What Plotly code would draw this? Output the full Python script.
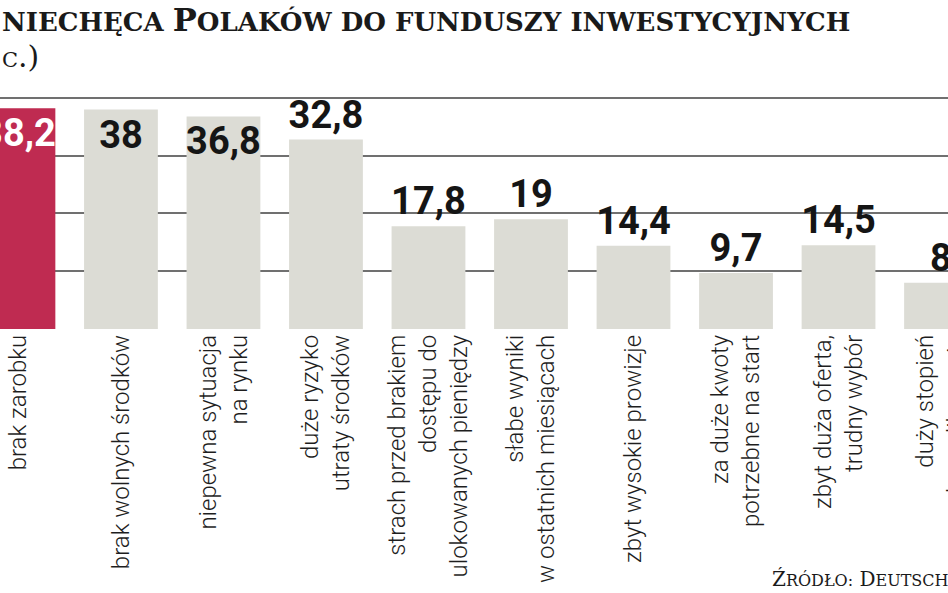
import plotly.graph_objects as go

categories = [
    "brak zarobku",
    "brak wolnych środków",
    "niepewna sytuacja<br>na rynku",
    "duże ryzyko<br>utraty środków",
    "strach przed brakiem<br>dostępu do<br>ulokowanych pieniędzy",
    "słabe wyniki<br>w ostatnich miesiącach",
    "zbyt wysokie prowizje",
    "za duże kwoty<br>potrzebne na start",
    "zbyt duża oferta,<br>trudny wybór",
    "duży stopień<br>skomplikowania",
]
values = [38.2, 38, 36.8, 32.8, 17.8, 19, 14.4, 9.7, 14.5, 8]
value_labels = ["38,2", "38", "36,8", "32,8", "17,8", "19", "14,4", "9,7", "14,5", "8"]
grid_values = [0, 10, 20, 30, 40]

RED = "#bf2b51"
GREY = "#dcdcd5"
colors = [RED] + [GREY] * (len(values) - 1)
text_pos = ["inside", "inside", "inside"] + ["outside"] * (len(values) - 3)
inside_colors = ["white"] + ["#151515"] * (len(values) - 1)

NUM_FONT = "Roboto, Liberation Sans, sans-serif"

fig = go.Figure()
fig.add_trace(go.Bar(
    x=categories,
    y=values,
    width=0.72,
    marker=dict(color=colors, line=dict(width=0)),
    text=value_labels,
    textposition=text_pos,
    insidetextanchor="end",
    constraintext="none",
    textangle=0,
    textfont=dict(family=NUM_FONT, size=38, color="#151515", weight="bold"),
    insidetextfont=dict(family=NUM_FONT, size=38, color=inside_colors, weight="bold"),
    outsidetextfont=dict(family=NUM_FONT, size=38, color="#151515", weight="bold"),
    cliponaxis=True,
    hoverinfo="skip",
))

fig.update_layout(
    width=948,
    height=593,
    margin=dict(l=0, r=0, t=87, b=264, autoexpand=False),
    paper_bgcolor="white",
    plot_bgcolor="white",
    showlegend=False,
    xaxis=dict(
        type="category",
        range=[-0.18, 9.068],
        automargin=False,
        tickangle=-90,
        tickfont=dict(family="Roboto", size=24, color="#1e1e1e", weight=300),
        showgrid=False,
        showline=False,
        ticks="",
        zeroline=False,
    ),
    yaxis=dict(
        range=[0, 41.9],
        automargin=False,
        tickvals=grid_values,
        showticklabels=False,
        showgrid=True,
        gridcolor="#707070",
        gridwidth=1.6,
        zeroline=False,
        showline=False,
        ticks="",
        fixedrange=True,
    ),
)

plot_h = 593 - 87 - 264


def py(pix):
    # pixel y (from top of page) -> paper coordinate
    return (593 - 264 - pix) / plot_h


SC = "<span style='font-size:{}px'>{}</span>"

title_txt = SC.format(26, "NIECHĘCA ") + "P" + SC.format(26, "OLAKÓW DO FUNDUSZY INWESTYCYJNYCH")
fig.add_annotation(text=title_txt,
                   x=0, y=py(41), xref="paper", yref="paper", xanchor="left", yanchor="bottom",
                   showarrow=False,
                   font=dict(family="DejaVu Serif", size=32, color="#1a1a1a", weight="bold"))
fig.add_annotation(text=SC.format(21, "C") + ".)",
                   x=0, y=py(76), xref="paper", yref="paper", xanchor="left", yanchor="bottom",
                   showarrow=False,
                   font=dict(family="DejaVu Serif", size=30, color="#1a1a1a"))
src_txt = "Ź" + SC.format(16, "RÓDŁO:") + " D" + SC.format(16, "EUTSCH")
fig.add_annotation(text=src_txt,
                   x=770 / 948, y=py(593), xref="paper", yref="paper", xanchor="left", yanchor="bottom",
                   showarrow=False,
                   font=dict(family="DejaVu Serif", size=20, color="#1a1a1a"))

fig.write_html("out.html")
